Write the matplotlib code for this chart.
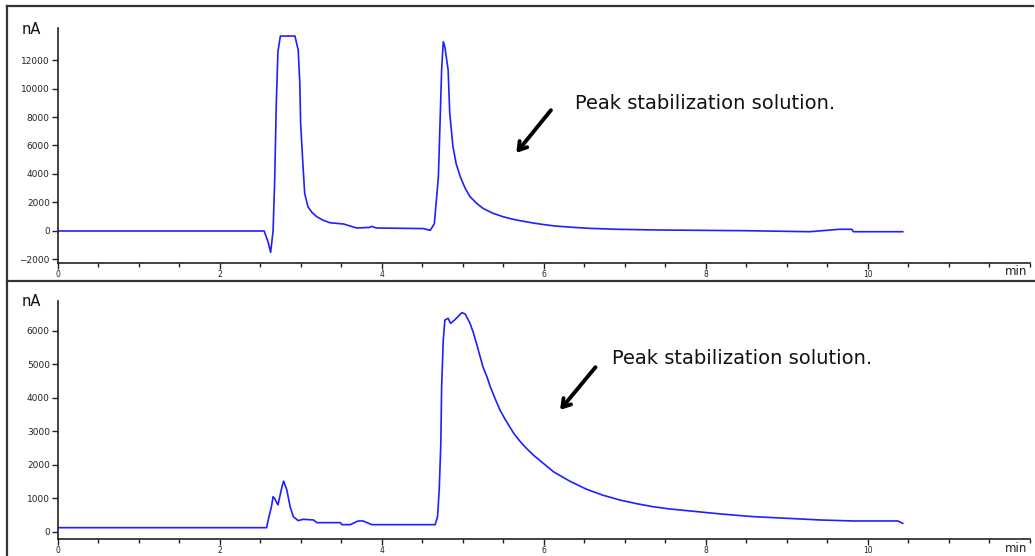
import matplotlib
matplotlib.use('Agg')
import matplotlib.pyplot as plt
from matplotlib.lines import Line2D
from matplotlib.ticker import MultipleLocator

# Upper chromatogram (time in min, signal in nA)
t_top = [0, 2.55, 2.60, 2.63, 2.66, 2.68, 2.70, 2.72, 2.75, 2.93, 2.97, 2.99, 3.00, 3.03,
         3.05, 3.09, 3.14, 3.20, 3.28, 3.36, 3.53, 3.69, 3.85, 3.88, 3.91, 3.94, 4.51, 4.60,
         4.65, 4.70, 4.72, 4.74, 4.76, 4.78, 4.82, 4.84, 4.88, 4.92, 4.97, 5.03, 5.09, 5.17,
         5.25, 5.37, 5.50, 5.60, 5.71, 5.87, 6.00, 6.14, 6.35, 6.55, 6.90, 7.41, 8.50, 9.28,
         9.65, 9.80, 9.82, 10.43]
v_top = [0, 0, -800, -1500, 0, 3580, 8980, 12580, 13680, 13680, 12700, 10360, 7560, 4520,
         2650, 1710, 1300, 1000, 750, 580, 490, 210, 250, 330, 250, 210, 170, 50,
         520, 3800, 7560, 11300, 13280, 12930, 11300, 8260, 5920, 4700, 3810, 3000, 2410, 1950,
         1590, 1250, 1000, 850, 720, 560, 450, 350, 260, 190, 120, 70, 20, -50,
         120, 120, -50, -50]

# Lower chromatogram
t_bot = [0, 2.58, 2.60, 2.64, 2.66, 2.68, 2.72, 2.77, 2.79, 2.83, 2.87, 2.91, 2.97, 3.03,
         3.16, 3.20, 3.49, 3.51, 3.61, 3.71, 3.77, 3.88, 4.66, 4.69, 4.71, 4.73, 4.74, 4.76,
         4.78, 4.82, 4.85, 4.90, 4.99, 5.03, 5.09, 5.13, 5.17, 5.21, 5.25, 5.30, 5.34, 5.40,
         5.46, 5.52, 5.58, 5.64, 5.71, 5.79, 5.87, 6.00, 6.12, 6.32, 6.53, 6.73, 6.94, 7.15,
         7.35, 7.55, 7.76, 8.18, 8.58, 9.00, 9.41, 9.82, 10.37, 10.43]
v_bot = [120, 120, 350, 750, 1045, 990, 800, 1340, 1510, 1245, 750, 450, 330, 370,
         350, 270, 270, 210, 210, 320, 320, 210, 210, 450, 1245, 2640, 4330, 5720,
         6320, 6370, 6220, 6320, 6540, 6500, 6220, 5950, 5620, 5270, 4920, 4620, 4330, 3970,
         3630, 3370, 3130, 2900, 2690, 2480, 2290, 2030, 1790, 1510, 1265, 1090, 945, 835,
         745, 680, 630, 530, 450, 400, 350, 320, 320, 250]

x_ticks = [0, 2, 4, 6, 8, 10]
y_ticks_top = [-2000, 0, 2000, 4000, 6000, 8000, 10000, 12000]
y_ticks_bot = [0, 1000, 2000, 3000, 4000, 5000, 6000]
note = 'Peak stabilization solution.'

W, H = 1035, 556
fig = plt.figure(figsize=(W / 100, H / 100), dpi=100)
plt.rcParams['font.family'] = ['DejaVu Sans']

ax1 = fig.add_axes([57.5 / W, 1 - 263 / H, (1030 - 57.5) / W, (263 - 28) / H])
ax2 = fig.add_axes([57.5 / W, 1 - 539.3 / H, (1030 - 57.5) / W, (539.3 - 300.7) / H])


def style(ax, yticks, ylim):
    ax.set_xlim(0, 12)
    ax.set_ylim(*ylim)
    ax.set_xticks(x_ticks)
    ax.xaxis.set_minor_locator(MultipleLocator(0.5))
    ax.set_yticks(yticks)
    ax.spines['top'].set_visible(False)
    ax.spines['right'].set_visible(False)
    for s in ('left', 'bottom'):
        ax.spines[s].set_linewidth(1.2)
        ax.spines[s].set_color('#222222')
    ax.tick_params(axis='both', which='major', length=4, width=1, labelsize=6.5, pad=1.5,
                   colors='#222222')
    ax.tick_params(axis='x', which='minor', length=3, width=1, colors='#222222')
    ax.tick_params(axis='x', which='major', labelsize=5.5, pad=1)
    ax.text(0.997, -0.01, 'min', transform=ax.transAxes, ha='right', va='top', fontsize=8.5,
            color='#222222')


ax1.plot(t_top, v_top, color='#1f1fff', lw=1.2)
style(ax1, y_ticks_top, (-2246, 14246))
ax2.plot(t_bot, v_bot, color='#1f1fff', lw=1.2)
style(ax2, y_ticks_bot, (-227, 6896))

# annotations
arrow = dict(arrowstyle='->,head_length=0.55,head_width=0.35', lw=2.8, color='black')
ax1.text(6.39, 8980, note, fontsize=14, va='center', ha='left', color='#111111')
ax1.annotate('', xy=(5.64, 5330), xytext=(6.11, 8630), arrowprops=arrow)
ax2.text(6.84, 5185, note, fontsize=14, va='center', ha='left', color='#111111')
ax2.annotate('', xy=(6.18, 3570), xytext=(6.66, 4975), arrowprops=arrow)

fig.text(22 / W, 1 - 30 / H, 'nA', fontsize=10.5, va='center', ha='left', color='#111111')
fig.text(22 / W, 1 - 302 / H, 'nA', fontsize=10.5, va='center', ha='left', color='#111111')

# outer frame of the report page
for xs, ys in [([7, 7], [6, H]), ([7, 1033], [6, 6]), ([7, W], [281, 281])]:
    fig.add_artist(Line2D([x / W for x in xs], [1 - y / H for y in ys],
                          transform=fig.transFigure, color='#333333', lw=1.6))

fig.savefig('out.png', dpi=100)
